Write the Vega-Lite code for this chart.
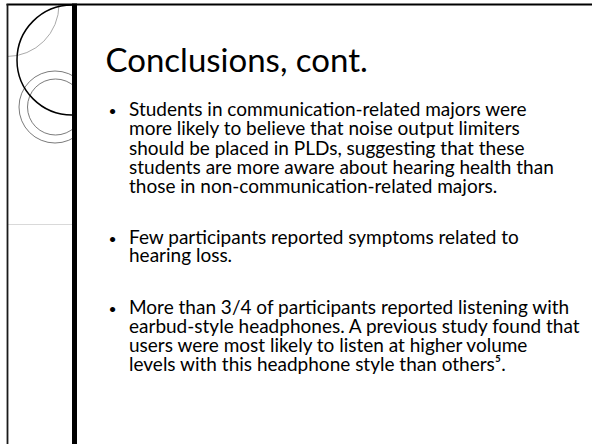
{
  "$schema": "https://vega.github.io/schema/vega-lite/v6.json",
  "width": 592,
  "height": 444,
  "autosize": {"type": "none"},
  "padding": 0,
  "background": "white",
  "config": {"view": {"stroke": null}},
  "datasets": {
    "body": [
      {"text": "Students in communication-related majors were", "x": 129, "y": 116},
      {"text": "more likely to believe that noise output limiters", "x": 129, "y": 135},
      {"text": "should be placed in PLDs, suggesting that these", "x": 129, "y": 154.5},
      {"text": "students are more aware about hearing health than", "x": 129, "y": 173.5},
      {"text": "those in non-communication-related majors.", "x": 129, "y": 192.5},
      {"text": "Few participants reported symptoms related to", "x": 129, "y": 243.5},
      {"text": "hearing loss.", "x": 129, "y": 262},
      {"text": "More than 3/4 of participants reported listening with", "x": 129, "y": 313.5},
      {"text": "earbud-style headphones. A previous study found that", "x": 129, "y": 332.5},
      {"text": "users were most likely to listen at higher volume", "x": 129, "y": 351.5},
      {"text": "levels with this headphone style than others⁵.", "x": 129, "y": 370.5}
    ],
    "bullets": [
      {"text": "•", "x": 112.5, "y": 116},
      {"text": "•", "x": 112.5, "y": 243.5},
      {"text": "•", "x": 112.5, "y": 313.5}
    ],
    "title": [{"text": "Conclusions, cont.", "x": 105.5, "y": 71.5}],
    "covers": [
      {"x": 0, "x2": 7, "y": 0, "y2": 444},
      {"x": 0, "x2": 592, "y": 0, "y2": 4},
      {"x": 74, "x2": 592, "y": 4, "y2": 444}
    ]
  },
  "encoding": {
    "x": {"field": "x", "type": "quantitative", "scale": {"domain": [0, 592], "range": [0, 592]}, "axis": null},
    "y": {"field": "y", "type": "quantitative", "scale": {"domain": [0, 444], "range": [0, 444]}, "axis": null}
  },
  "layer": [
    {
      "data": {"values": [{"x": 7, "y": 4.5}]},
      "mark": {"type": "point", "shape": "circle", "filled": false, "size": 10816, "stroke": "#aaaaaa", "strokeWidth": 1, "opacity": 1}
    },
    {
      "data": {"values": [{"x": 55, "y": 107}]},
      "mark": {"type": "point", "shape": "circle", "filled": false, "size": 5184, "stroke": "#595959", "strokeWidth": 0.8, "opacity": 1}
    },
    {
      "data": {"values": [{"x": 55.5, "y": 107}]},
      "mark": {"type": "point", "shape": "circle", "filled": false, "size": 3136, "stroke": "#595959", "strokeWidth": 0.8, "opacity": 1}
    },
    {
      "data": {"values": [{"x": 72, "y": 60}]},
      "mark": {"type": "point", "shape": "circle", "filled": false, "size": 12100, "stroke": "#000000", "strokeWidth": 1.5, "opacity": 1}
    },
    {
      "data": {"name": "covers"},
      "mark": {"type": "rect", "fill": "white", "stroke": null},
      "encoding": {"x2": {"field": "x2"}, "y2": {"field": "y2"}}
    },
    {
      "data": {"values": [{"x": 8, "x2": 72, "y": 224.5}]},
      "mark": {"type": "rule", "stroke": "#d9d9d9", "strokeWidth": 1},
      "encoding": {"x2": {"field": "x2"}}
    },
    {
      "data": {"values": [{"x": 6.5, "x2": 592, "y": 4.5}]},
      "mark": {"type": "rule", "stroke": "#000000", "strokeWidth": 2},
      "encoding": {"x2": {"field": "x2"}}
    },
    {
      "data": {"values": [{"x": 7.5, "y": 4, "y2": 444}]},
      "mark": {"type": "rule", "stroke": "#1a1a1a", "strokeWidth": 1.8},
      "encoding": {"y2": {"field": "y2"}}
    },
    {
      "data": {"values": [{"x": 74.5, "y": 3.5, "y2": 444}]},
      "mark": {"type": "rule", "stroke": "#000000", "strokeWidth": 5},
      "encoding": {"y2": {"field": "y2"}}
    },
    {
      "data": {"name": "title"},
      "mark": {"type": "text", "align": "left", "baseline": "alphabetic", "font": "Lato", "fontSize": 33, "color": "#000000"},
      "encoding": {"text": {"field": "text"}}
    },
    {
      "data": {"name": "bullets"},
      "mark": {"type": "text", "align": "center", "baseline": "alphabetic", "font": "Lato", "fontSize": 14, "color": "#000000"},
      "encoding": {"text": {"field": "text"}}
    },
    {
      "data": {"name": "body"},
      "mark": {"type": "text", "align": "left", "baseline": "alphabetic", "font": "Lato", "fontSize": 19, "color": "#000000"},
      "encoding": {"text": {"field": "text"}}
    }
  ]
}
